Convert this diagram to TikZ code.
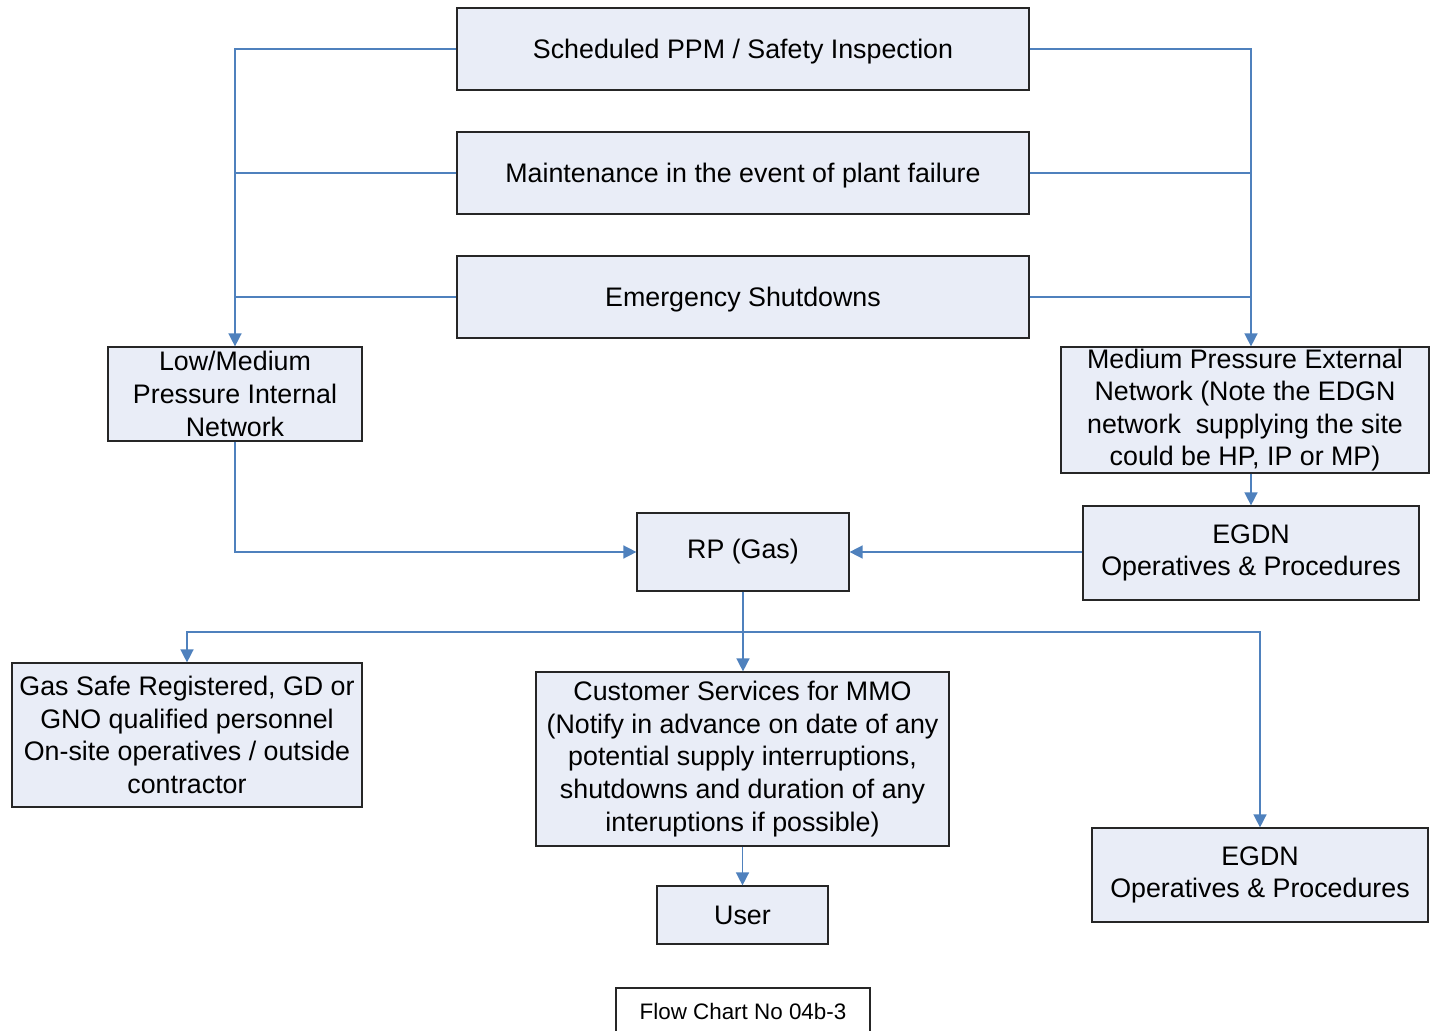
\documentclass[tikz,border=0pt]{standalone}
\usepackage{fontspec}
\setmainfont{Liberation Sans}
\usetikzlibrary{arrows.meta}
\definecolor{boxfill}{RGB}{233,237,247}
\definecolor{linkblue}{RGB}{79,129,189}
\begin{document}
\begin{tikzpicture}[x=0.5pt,y=-0.5pt,
  box/.style={draw=black!85, line width=0.6pt, fill=boxfill, align=center,
    inner sep=0pt, font=\fontsize{13.4}{16.3}\selectfont},
  oneline/.style={text depth=0pt},
  link/.style={draw=linkblue, line width=0.75pt},
  tip/.style={-{Triangle[length=6.5pt,width=6.5pt]}, linkblue}]
\useasboundingbox (0,0) rectangle (1430,1031);

% top row of activity boxes
\node[box, oneline, minimum width=286pt, minimum height=41pt] (sched) at (743,49) {Scheduled PPM / Safety Inspection};
\node[box, oneline, minimum width=286pt, minimum height=41pt] (maint) at (743,173) {Maintenance in the event of plant failure};
\node[box, oneline, minimum width=286pt, minimum height=41pt] (emerg) at (743,297) {Emergency Shutdowns};

% networks
\node[box, minimum width=127pt, minimum height=47pt] (lowmed) at (235,394) {Low/Medium\\Pressure Internal\\Network};
\node[box, minimum width=184pt, minimum height=63pt] (mpe) at (1245,410) {Medium Pressure External\\Network (Note the EDGN\\network\ \ supplying the site\\could be HP, IP or MP)};
\node[box, minimum width=168pt, minimum height=47pt] (egdnA) at (1251,553) {EGDN\\Operatives \& Procedures};

% responsible person
\node[box, minimum width=106pt, minimum height=39pt] (rp) at (743,552) {RP (Gas)};

% lower row
\node[box, minimum width=175pt, minimum height=72pt] (gassafe) at (187,735) {Gas Safe Registered, GD or\\GNO qualified personnel\\On-site operatives / outside\\contractor};
\node[box, minimum width=206.5pt, minimum height=87pt] (cust) at (742.5,759) {Customer Services for MMO\\(Notify in advance on date of any\\potential supply interruptions,\\shutdowns and duration of any\\interuptions if possible)};
\node[box, minimum width=85.5pt, minimum height=29pt] (user) at (742.5,915) {User};
\node[box, minimum width=168pt, minimum height=47pt] (egdnB) at (1260,875) {EGDN\\Operatives \& Procedures};

% chart reference
\node[box, fill=white, minimum width=127pt, minimum height=30pt, font=\fontsize{11.2}{13}\selectfont] (ref) at (743,1018) {\raisebox{6.5pt}{Flow Chart No 04b-3}};

% left trunk
\draw[link, tip] (sched.west) -| (lowmed.north);
\draw[link] (maint.west) -- (maint.west -| lowmed.north);
\draw[link] (emerg.west) -- (emerg.west -| lowmed.north);

% right trunk
\coordinate (rtop) at (egdnA.north |- mpe.north);
\draw[link, tip] (sched.east) -| (rtop);
\draw[link] (maint.east) -- (maint.east -| rtop);
\draw[link] (emerg.east) -- (emerg.east -| rtop);
\draw[link, tip] (mpe.south -| egdnA.north) -- (egdnA.north);

% into RP
\draw[link, tip] (lowmed.south) |- (rp.west);
\draw[link, tip] (egdnA.west |- rp.east) -- (rp.east);

% out of RP
\coordinate (bus) at (743,632);
\draw[link, tip] (rp.south) -- (rp.south |- cust.north);
\draw[link, tip] (bus) -| (gassafe.north);
\draw[link, tip] (bus) -| (egdnB.north);
\draw[link, tip] (cust.south) -- (cust.south -| user.north) -- (user.north);
\end{tikzpicture}
\end{document}
